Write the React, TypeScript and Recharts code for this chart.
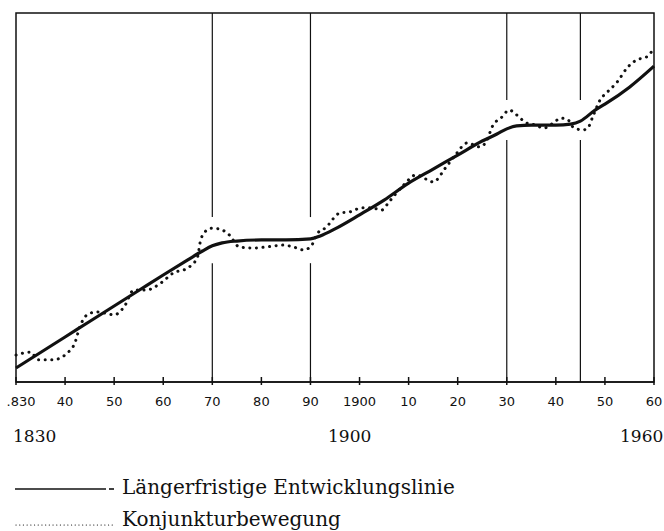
import React from "react";
import {
  LineChart,
  XAxis,
  YAxis,
  Line,
  ReferenceLine,
  ReferenceArea,
} from "recharts";

// Längerfristige Entwicklungslinie (Index)
const trendYears = [
  1830, 1835, 1840, 1845, 1850, 1855, 1860, 1865, 1868, 1870, 1872, 1875, 1880,
  1885, 1890, 1892, 1895, 1900, 1905, 1910, 1915, 1920, 1925, 1928, 1930, 1932,
  1935, 1940, 1943, 1945, 1948, 1950, 1955, 1960,
];
const trendValues = [
  3.8, 8.0, 12.2, 16.4, 20.6, 24.8, 29.0, 33.1, 35.5, 36.9, 37.7, 38.2, 38.5,
  38.5, 38.8, 39.6, 41.5, 45.3, 49.3, 53.9, 57.7, 61.5, 65.3, 67.2, 68.6, 69.4,
  69.6, 69.6, 69.9, 70.7, 73.7, 75.3, 79.9, 85.6,
];

// Konjunkturbewegung
const cycleYears = [
  1830, 1833, 1834.5, 1837.5, 1840.5, 1842, 1843, 1844.5, 1846.5, 1848, 1850,
  1852, 1854, 1856.5, 1859.5, 1862, 1865, 1867, 1867.5, 1868.5, 1870, 1872,
  1873.5, 1875.5, 1878.5, 1881, 1884.5, 1886.5, 1888.5, 1890, 1891.5, 1893,
  1896, 1898, 1900.5, 1902.5, 1904.5, 1906, 1909, 1911.5, 1914, 1915, 1917.5,
  1919.5, 1922, 1924.5, 1926, 1927, 1929, 1930.5, 1932, 1934, 1936, 1937.5,
  1939.5, 1941, 1942.5, 1943.5, 1945.5, 1946.5, 1947.5, 1949, 1950.5, 1952.5,
  1954.5, 1956.5, 1958.5, 1960,
];
const cycleValues = [
  7.3, 8.1, 6.0, 6.0, 7.9, 10.6, 14.9, 18.2, 19.0, 18.7, 18.2, 20.3, 24.9,
  24.9, 26.8, 29.5, 30.9, 33.9, 37.7, 40.7, 41.7, 41.2, 39.8, 36.6, 36.3, 36.6,
  37.1, 36.6, 35.8, 36.6, 40.4, 41.7, 45.8, 46.1, 47.2, 47.2, 46.6, 48.8, 53.4,
  56.1, 54.7, 54.2, 58.0, 61.5, 64.8, 63.7, 65.6, 69.1, 71.8, 73.7, 72.4, 70.2,
  69.6, 68.8, 70.2, 71.5, 71.0, 69.1, 68.3, 68.8, 71.8, 76.4, 78.6, 81.3, 85.1,
  87.3, 88.1, 90.5,
];

const tickYears = [
  1830, 1840, 1850, 1860, 1870, 1880, 1890, 1900, 1910, 1920, 1930, 1940, 1950,
  1960,
];
const tickLabels = [
  ".830", "40", "50", "60", "70", "80", "90", "1900", "10", "20", "30", "40",
  "50", "60",
];

// senkrechte Trennlinien mit Lücke, wo die Kurven durchlaufen
const markerYears = [1870, 1890, 1930, 1945];
const markerGapLow = [32.2, 32.2, 65.6, 65.6];
const markerGapHigh = [44.7, 44.7, 76.4, 76.4];

const eraLabels = ["1830", "1900", "1960"];

const trendData = trendYears.map((year, i) => ({ year, value: trendValues[i] }));
const cycleData = cycleYears.map((year, i) => ({ year, value: cycleValues[i] }));

const ink = "#111";

const YearTick = (props: any) => {
  const { x, y, payload } = props;
  const idx = tickYears.indexOf(payload.value);
  return (
    <g>
      <line x1={x} x2={x} y1={y - 5} y2={y + 3} stroke={ink} strokeWidth={1.5} />
      <text
        x={idx === 0 ? x + 5 : x}
        y={y + 24}
        textAnchor="middle"
        fill={ink}
        fontSize={13}
        fontFamily="DejaVu Sans"
      >
        {tickLabels[idx]}
      </text>
    </g>
  );
};

const legendText: React.CSSProperties = {
  position: "absolute",
  left: 122,
  fontFamily: "DejaVu Serif",
  fontSize: 20,
  color: ink,
  whiteSpace: "nowrap",
};

export default function App() {
  return (
    <div
      style={{
        position: "absolute",
        left: 0,
        top: 0,
        width: 664,
        height: 531,
        background: "#fff",
      }}
    >
      <LineChart
        width={664}
        height={424}
        margin={{ top: 13, right: 10, left: 16, bottom: 0 }}
      >
        <XAxis
          dataKey="year"
          type="number"
          domain={[1830, 1960]}
          ticks={tickYears}
          interval={0}
          height={42}
          tickLine={false}
          tickSize={0}
          tickMargin={0}
          axisLine={{ stroke: ink, strokeWidth: 1.5 }}
          tick={<YearTick />}
        />
        <YAxis hide domain={[0, 100]} />
        <ReferenceArea
          x1={1830}
          x2={1960}
          y1={0}
          y2={100}
          fill="none"
          fillOpacity={0}
          stroke={ink}
          strokeWidth={1.5}
        />
        {markerYears.map((yr, i) => (
          <ReferenceLine
            key={"a" + yr}
            segment={[
              { x: yr, y: 0 },
              { x: yr, y: markerGapLow[i] },
            ]}
            stroke={ink}
            strokeWidth={1.2}
          />
        ))}
        {markerYears.map((yr, i) => (
          <ReferenceLine
            key={"b" + yr}
            segment={[
              { x: yr, y: markerGapHigh[i] },
              { x: yr, y: 100 },
            ]}
            stroke={ink}
            strokeWidth={1.2}
          />
        ))}
        <Line
          data={cycleData}
          dataKey="value"
          type="monotone"
          stroke={ink}
          strokeWidth={3}
          strokeDasharray="0.1 6.5"
          strokeLinecap="round"
          dot={false}
          isAnimationActive={false}
        />
        <Line
          data={trendData}
          dataKey="value"
          type="monotone"
          stroke={ink}
          strokeWidth={3.2}
          dot={false}
          isAnimationActive={false}
        />
      </LineChart>

      {eraLabels.map((t, i) => (
        <div
          key={t}
          style={{
            position: "absolute",
            top: 426,
            left: [13, 328, 620][i],
            fontFamily: "DejaVu Serif",
            fontSize: 17,
            color: ink,
          }}
        >
          {t}
        </div>
      ))}

      <svg
        width={120}
        height={61}
        style={{ position: "absolute", left: 0, top: 470 }}
      >
        <line x1={15} x2={106} y1={19} y2={19} stroke={ink} strokeWidth={1.6} />
        <line x1={109} x2={114} y1={19} y2={19} stroke={ink} strokeWidth={1.6} />
        <line
          x1={16}
          x2={114}
          y1={55}
          y2={55}
          stroke={ink}
          strokeWidth={1.2}
          strokeDasharray="0.1 3.6"
          strokeLinecap="round"
        />
      </svg>
      <div style={{ ...legendText, top: 475 }}>Längerfristige Entwicklungslinie</div>
      <div style={{ ...legendText, top: 507 }}>Konjunkturbewegung</div>
    </div>
  );
}
